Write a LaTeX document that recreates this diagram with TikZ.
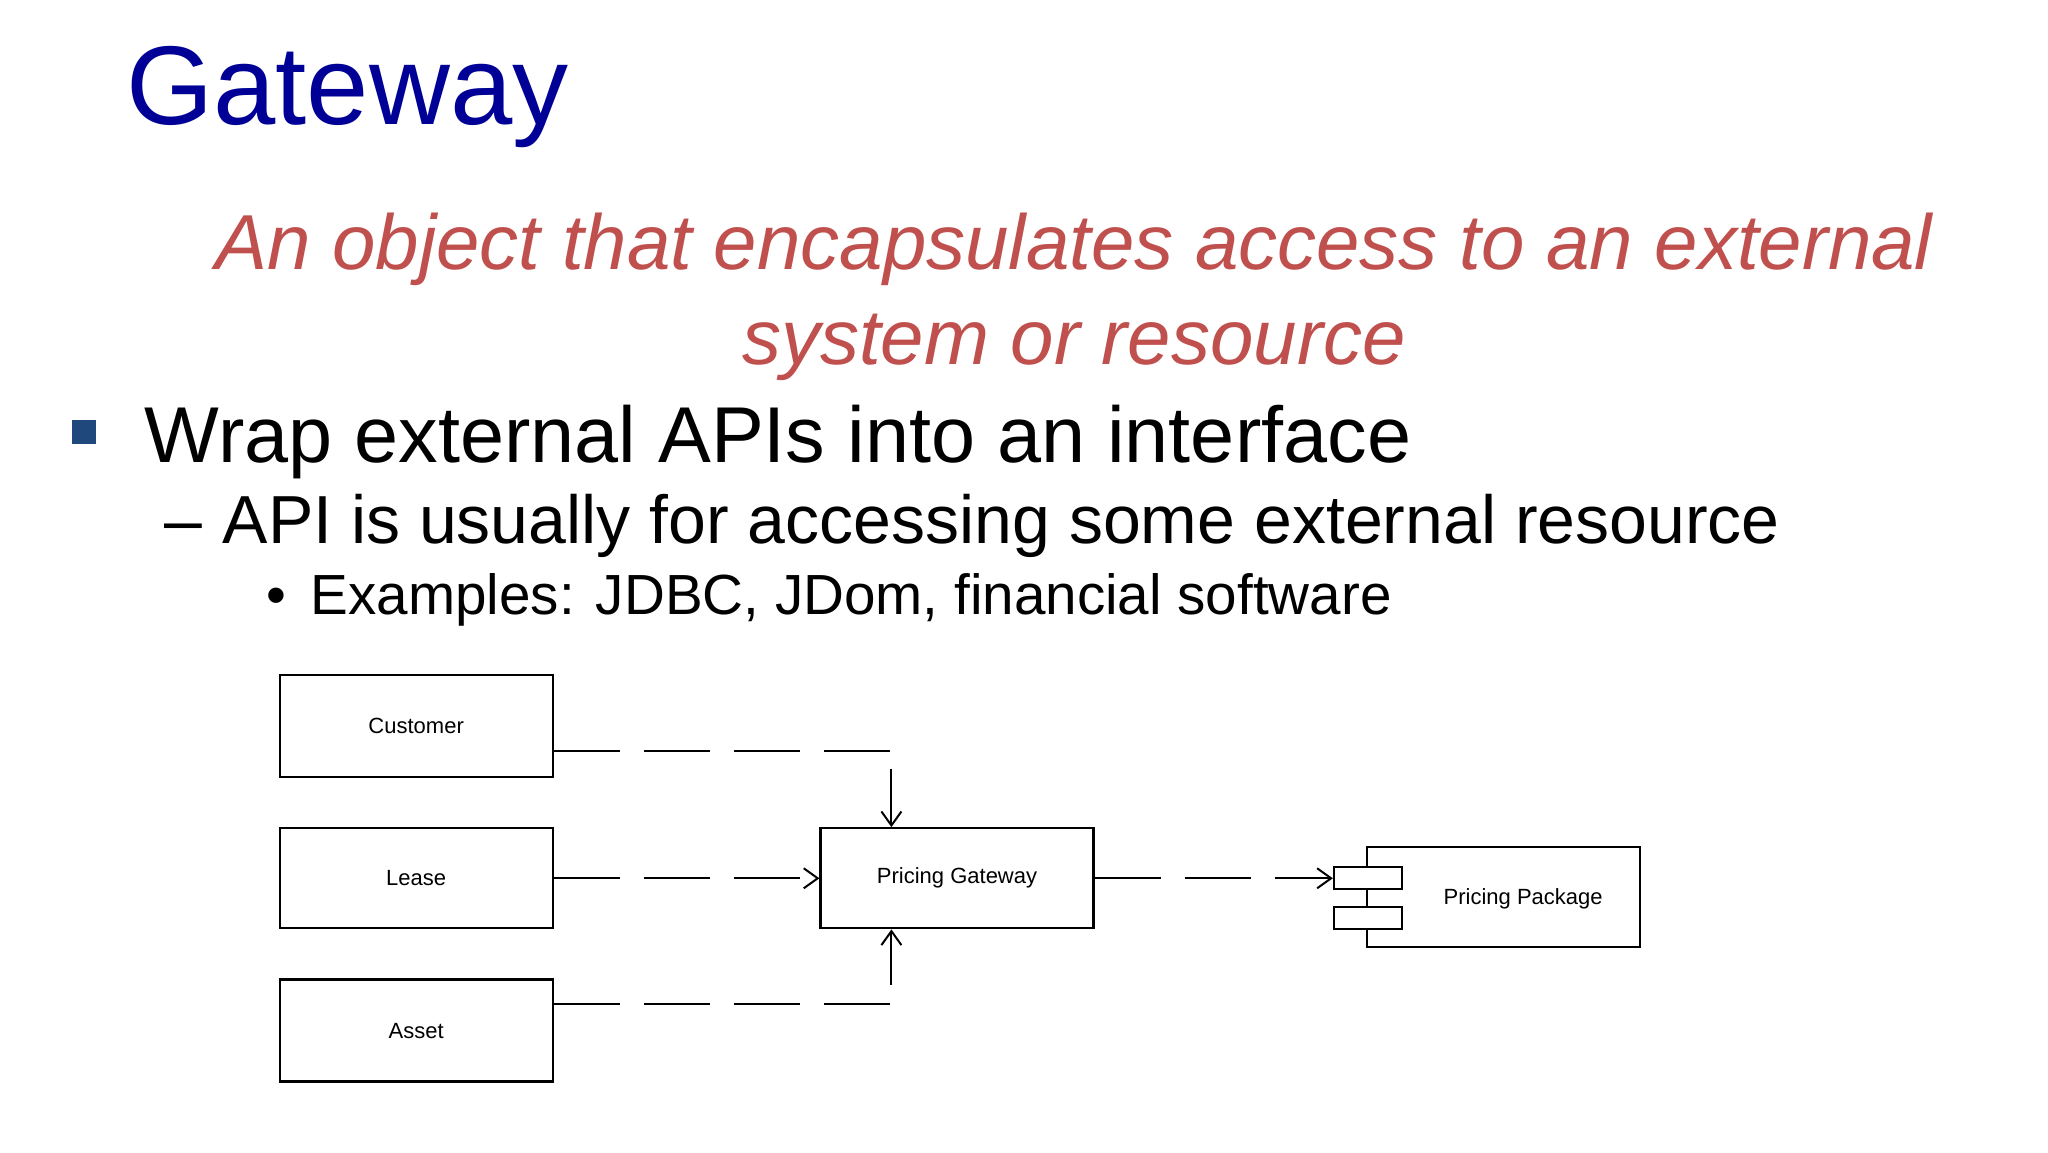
\documentclass[tikz,border=0pt]{standalone}
\usepackage{fontspec}
\setmainfont{Liberation Sans}
\usetikzlibrary{arrows.meta}
\definecolor{ttl}{RGB}{0,0,150}
\definecolor{red1}{RGB}{192,80,77}
\definecolor{sq}{RGB}{31,73,125}
\begin{document}
\begin{tikzpicture}[x=0.6564pt,y=-0.6564pt,
  box/.style={draw,line width=1.1pt,inner sep=0pt,font=\fontsize{11}{12}\selectfont},
  dep/.style={line width=1pt,dash pattern=on 33pt off 12pt},
  tip/.style={-{Straight Barb[length=7pt,width=10pt]}}]
\useasboundingbox (0,0) rectangle (1560,877.7);
\fill[white] (0,0) rectangle (1560,877.7);
\node[anchor=base west,text=ttl,font=\fontsize{56}{60}\selectfont,inner sep=0pt] (title) at (96,95) {Gateway};
\node[anchor=base,text=red1,font=\fontsize{39}{48}\selectfont\itshape,inner sep=0pt] (d1) at (818,205) {An object that encapsulates access to an external};
\node[anchor=base,text=red1,font=\fontsize{39}{48}\selectfont\itshape,inner sep=0pt] (d2) at (818,278) {system or resource};
\fill[sq] (55,320) rectangle (73,338);
\node[anchor=base west,font=\fontsize{39.6}{48}\selectfont,inner sep=0pt] (b1) at (110,352) {Wrap external APIs into an interface};
\node[anchor=base west,font=\fontsize{34}{40}\selectfont,inner sep=0pt] (b2) at (125,414) {–\hspace{0.3em}API is usually for accessing some external resource};
\node[anchor=base west,font=\fontsize{28.3}{34}\selectfont,inner sep=0pt] (b3) at (203,468) {•\hspace{12pt}Examples: JDBC, JDom, financial software};
\node[box,minimum width=136.5pt,minimum height=51pt] (cust) at (317,553) {Customer};
\node[box,minimum width=136.5pt,minimum height=50pt] (lease) at (317,669) {Lease};
\node[box,minimum width=136.5pt,minimum height=51pt] (asset) at (317,785) {Asset};
\node[box,minimum width=136.5pt,minimum height=50pt] (gw) at (729,669) {Pricing Gateway};
\node[box,minimum width=136.5pt,minimum height=50pt,text depth=0pt] (pkg) at (1145,683) {\hspace{20pt}Pricing Package};
\node[box,fill=white,minimum width=34pt,minimum height=11pt] (t1) at (1042,668.5) {};
\node[box,fill=white,minimum width=34pt,minimum height=11pt] (t2) at (1042,699) {};
\coordinate (c1) at (679,572);
\coordinate (c2) at (679,765);
\draw[dep] (cust.east |- c1) -- (c1);
\draw[line width=1pt,tip] (679,586) -- (gw.north -| c1);
\draw[dep] (asset.east |- c2) -- (c2);
\draw[line width=1pt,tip] (679,750) -- (gw.south -| c2);
\draw[dep,tip] (lease.east) -- (gw.west);
\draw[dep,tip] (gw.east) -- (t1.west |- gw.east);
\end{tikzpicture}
\end{document}
